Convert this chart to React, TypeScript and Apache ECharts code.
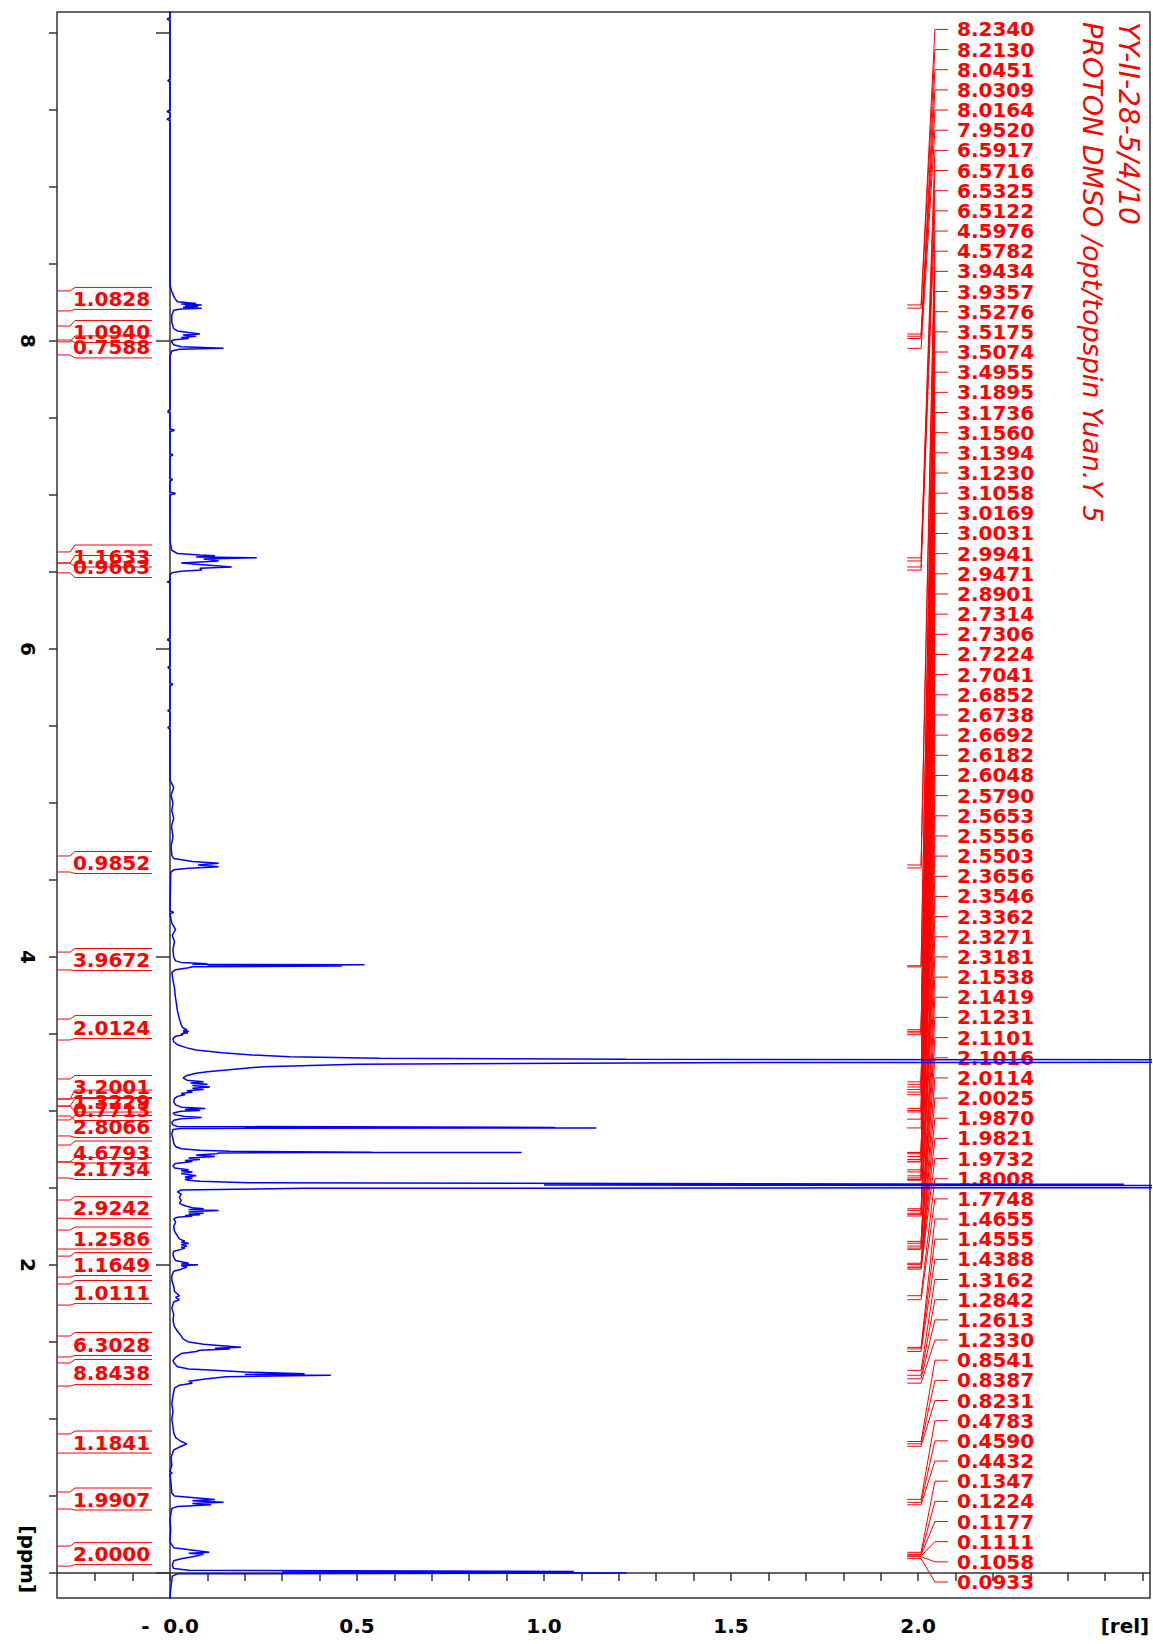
import React, { useEffect, useRef } from 'react';
import * as echarts from 'echarts';

// ---------- axes ----------
const X_MIN = -0.302;
const X_MAX = 2.62;
const Y_MIN = -0.162;
const Y_MAX = 10.136;

const xTickValues = [-0.2, -0.1, 0, 0.1, 0.2, 0.3, 0.4, 0.5, 0.6, 0.7, 0.8, 0.9, 1.0, 1.1, 1.2, 1.3, 1.4, 1.5, 1.6, 1.7, 1.8, 1.9, 2.0, 2.1, 2.2, 2.3, 2.4, 2.5, 2.6];
const xLabelValues = [0, 0.5, 1.0, 1.5, 2.0, 2.553];
const yMajorTicks = [0, 2, 4, 6, 8, 10];
const yMinorTicks = [0, 0.5, 1, 1.5, 2, 2.5, 3, 3.5, 4, 4.5, 5, 5.5, 6, 6.5, 7, 7.5, 8, 8.5, 9, 9.5, 10];
const yLabelValues = [0.09, 2, 4, 6, 8];

// ---------- spectrum: [ppm, relative intensity] ----------
const spectrum: [number, number][] = [
  [10.14, 0.0], [10.10, 0.0], [10.09, -0.008], [10.08, 0.0],
  [9.70, 0.0], [9.69, -0.006], [9.68, 0.0],
  [9.50, 0.0], [9.49, -0.008], [9.48, 0.0], [9.45, 0.0], [9.44, -0.008], [9.43, 0.0],
  [8.36, 0.0], [8.32, 0.005], [8.28, 0.012], [8.255, 0.02],
  [8.248, 0.05], [8.244, 0.07], [8.240, 0.03], [8.234, 0.085], [8.229, 0.04], [8.224, 0.075], [8.219, 0.035], [8.213, 0.085], [8.208, 0.03], [8.200, 0.01],
  [8.17, 0.005], [8.12, 0.005], [8.08, 0.01], [8.065, 0.02],
  [8.0451, 0.08], [8.038, 0.035], [8.0309, 0.07], [8.023, 0.03], [8.0164, 0.05], [8.008, 0.012], [8.000, 0.003],
  [7.975, 0.01], [7.962, 0.03], [7.952, 0.143], [7.946, 0.025], [7.935, 0.005], [7.90, 0.0],
  [7.56, 0.0], [7.54, -0.006], [7.53, 0.0], [7.43, 0.0], [7.42, 0.012], [7.41, 0.0], [7.27, 0.0], [7.26, 0.008], [7.25, 0.0],
  [7.11, 0.0], [7.10, 0.007], [7.09, 0.0], [7.02, 0.0], [7.01, 0.015], [7.00, 0.0],
  [6.70, 0.0], [6.64, 0.005], [6.62, 0.02], [6.610, 0.08], [6.605, 0.12], [6.598, 0.07], [6.5917, 0.232], [6.585, 0.09],
  [6.5716, 0.13], [6.565, 0.08], [6.558, 0.03], [6.548, 0.08], [6.5325, 0.165], [6.525, 0.08], [6.5122, 0.085], [6.505, 0.03], [6.495, 0.005], [6.48, 0.0],
  [6.44, 0.0], [6.437, -0.008], [6.43, 0.0],
  [6.07, 0.0], [6.06, -0.007], [6.05, 0.0], [5.89, 0.0], [5.88, -0.006], [5.87, 0.0], [5.78, 0.0], [5.77, 0.008], [5.76, 0.0],
  [5.61, 0.0], [5.60, -0.006], [5.59, 0.0], [5.50, 0.0], [5.49, -0.006], [5.48, 0.0],
  [5.15, 0.0], [5.10, 0.01], [5.05, 0.003], [5.00, 0.008], [4.95, 0.005], [4.90, 0.01], [4.85, 0.004], [4.78, 0.008], [4.72, 0.003],
  [4.66, 0.005], [4.64, 0.01], [4.62, 0.06], [4.608, 0.13], [4.597, 0.075], [4.586, 0.13], [4.576, 0.05], [4.566, 0.01], [4.55, 0.002],
  [4.30, 0.0], [4.29, 0.01], [4.28, 0.0], [4.22, 0.005], [4.18, 0.015], [4.14, 0.006], [4.10, 0.012], [4.05, 0.008], [4.00, 0.01],
  [3.975, 0.015], [3.965, 0.03], [3.957, 0.10], [3.953, 0.06], [3.950, 0.52], [3.946, 0.10], [3.942, 0.46], [3.937, 0.06], [3.930, 0.05], [3.918, 0.015], [3.90, 0.005],
  [3.85, 0.008], [3.80, 0.012], [3.75, 0.014], [3.70, 0.017], [3.65, 0.02], [3.60, 0.025], [3.56, 0.03], [3.54, 0.035],
  [3.5276, 0.045], [3.522, 0.035], [3.5175, 0.05], [3.512, 0.035], [3.5074, 0.048], [3.501, 0.03], [3.4955, 0.035], [3.485, 0.015], [3.47, 0.008], [3.45, 0.01], [3.43, 0.02], [3.41, 0.045],
  [3.396, 0.07], [3.378, 0.14], [3.364, 0.22], [3.353, 0.32], [3.342, 0.56], [3.336, 1.22], [3.331, 3.5], [3.318, 3.5], [3.314, 1.40],
  [3.304, 0.50], [3.288, 0.25], [3.273, 0.18], [3.255, 0.10], [3.245, 0.07], [3.23, 0.045],
  [3.215, 0.035], [3.200, 0.045],
  [3.1895, 0.09], [3.182, 0.055], [3.1736, 0.10], [3.165, 0.06], [3.156, 0.107], [3.148, 0.06], [3.1394, 0.09], [3.131, 0.045],
  [3.123, 0.06], [3.114, 0.03], [3.1058, 0.04], [3.095, 0.02], [3.08, 0.012], [3.06, 0.01], [3.04, 0.015],
  [3.025, 0.03], [3.0169, 0.094], [3.010, 0.04], [3.0031, 0.08], [2.998, 0.03], [2.9941, 0.02], [2.985, 0.008], [2.975, 0.015],
  [2.965, 0.04], [2.958, 0.085], [2.950, 0.03], [2.940, 0.01], [2.925, 0.005], [2.91, 0.008], [2.90, 0.02],
  [2.8935, 1.03], [2.8915, 0.2], [2.8901, 1.14], [2.887, 0.03], [2.88, 0.008], [2.85, 0.005], [2.82, 0.008], [2.79, 0.01], [2.77, 0.015], [2.755, 0.03],
  [2.745, 0.08], [2.738, 0.16], [2.733, 0.54], [2.732, 0.2], [2.7314, 0.94], [2.7306, 0.4], [2.727, 0.13], [2.7224, 0.125], [2.715, 0.07],
  [2.7041, 0.12], [2.695, 0.05], [2.6852, 0.08], [2.678, 0.04], [2.6738, 0.06], [2.6692, 0.05], [2.66, 0.015], [2.645, 0.008], [2.63, 0.012],
  [2.6182, 0.05], [2.612, 0.03], [2.6048, 0.06], [2.595, 0.03], [2.579, 0.07], [2.572, 0.04], [2.5653, 0.06], [2.5556, 0.04], [2.5503, 0.05], [2.544, 0.08],
  [2.534, 0.21], [2.524, 2.55], [2.520, 1.0], [2.514, 3.5], [2.504, 3.5], [2.498, 0.36], [2.487, 0.03], [2.475, 0.02], [2.46, 0.03], [2.44, 0.025], [2.42, 0.03], [2.40, 0.025],
  [2.385, 0.04], [2.372, 0.06], [2.3656, 0.09], [2.360, 0.05], [2.3546, 0.13], [2.346, 0.05], [2.3362, 0.09], [2.331, 0.05], [2.3271, 0.08], [2.322, 0.04], [2.3181, 0.06], [2.310, 0.02], [2.30, 0.01],
  [2.28, 0.015], [2.25, 0.01], [2.22, 0.012], [2.19, 0.02], [2.17, 0.025],
  [2.1538, 0.04], [2.148, 0.03], [2.1419, 0.05], [2.132, 0.03], [2.1231, 0.045], [2.116, 0.03], [2.1101, 0.04], [2.1016, 0.03], [2.09, 0.01], [2.07, 0.008], [2.05, 0.01], [2.03, 0.015],
  [2.0114, 0.05], [2.006, 0.03], [2.0025, 0.075], [1.995, 0.03], [1.987, 0.045], [1.9821, 0.04], [1.9732, 0.03], [1.96, 0.01], [1.93, 0.005], [1.90, 0.005], [1.86, 0.01], [1.83, 0.012],
  [1.8008, 0.025], [1.79, 0.015], [1.7748, 0.025], [1.76, 0.01], [1.72, 0.005], [1.68, 0.01], [1.64, 0.008], [1.60, 0.012], [1.57, 0.02], [1.54, 0.03], [1.52, 0.035],
  [1.50, 0.05], [1.485, 0.09], [1.478, 0.13], [1.4655, 0.19], [1.460, 0.12], [1.4555, 0.16], [1.447, 0.08], [1.4388, 0.07], [1.425, 0.03], [1.40, 0.015], [1.38, 0.008], [1.36, 0.012],
  [1.34, 0.02], [1.325, 0.05], [1.3162, 0.12], [1.305, 0.2], [1.294, 0.36], [1.290, 0.2], [1.2842, 0.43], [1.275, 0.15], [1.2613, 0.10], [1.245, 0.05], [1.233, 0.06], [1.22, 0.025], [1.20, 0.012],
  [1.15, 0.008], [1.10, 0.005], [1.05, 0.008], [1.00, 0.005], [0.95, 0.008], [0.91, 0.01],
  [0.88, 0.015], [0.8541, 0.03], [0.8387, 0.045], [0.8231, 0.03], [0.80, 0.01],
  [0.75, 0.003], [0.70, 0.005], [0.66, 0.0], [0.65, 0.006], [0.64, 0.0], [0.58, 0.003], [0.52, 0.005], [0.50, 0.012],
  [0.4783, 0.12], [0.470, 0.06], [0.459, 0.143], [0.451, 0.06], [0.4432, 0.11], [0.432, 0.02], [0.42, 0.005],
  [0.35, 0.0], [0.28, 0.002], [0.20, 0.0], [0.165, 0.01],
  [0.1347, 0.105], [0.128, 0.05], [0.1224, 0.09], [0.1177, 0.08], [0.1111, 0.07], [0.1058, 0.06], [0.0933, 0.03], [0.08, 0.01], [0.05, 0.006], [0.03, 0.01],
  [0.018, 0.05], [0.010, 1.08], [0.006, 0.3], [0.001, 1.22], [-0.005, 0.02], [-0.02, 0.006], [-0.05, 0.005], [-0.10, 0.002], [-0.165, 0.0],
];

// ---------- peak picking labels (ppm) ----------
const peakLabels = [
  8.2340, 8.2130, 8.0451, 8.0309, 8.0164, 7.9520, 6.5917, 6.5716, 6.5325, 6.5122,
  4.5976, 4.5782, 3.9434, 3.9357, 3.5276, 3.5175, 3.5074, 3.4955, 3.1895, 3.1736,
  3.1560, 3.1394, 3.1230, 3.1058, 3.0169, 3.0031, 2.9941, 2.9471, 2.8901, 2.7314,
  2.7306, 2.7224, 2.7041, 2.6852, 2.6738, 2.6692, 2.6182, 2.6048, 2.5790, 2.5653,
  2.5556, 2.5503, 2.3656, 2.3546, 2.3362, 2.3271, 2.3181, 2.1538, 2.1419, 2.1231,
  2.1101, 2.1016, 2.0114, 2.0025, 1.9870, 1.9821, 1.9732, 1.8008, 1.7748, 1.4655,
  1.4555, 1.4388, 1.3162, 1.2842, 1.2613, 1.2330, 0.8541, 0.8387, 0.8231, 0.4783,
  0.4590, 0.4432, 0.1347, 0.1224, 0.1177, 0.1111, 0.1058, 0.0933,
];

// ---------- integrals ----------
const integralValues = [1.0828, 1.0940, 0.7588, 1.1633, 0.9663, 0.9852, 3.9672, 2.0124, 3.2001, 1.3229, 0.7713, 2.8066, 4.6793, 2.1734, 2.9242, 1.2586, 1.1649, 1.0111, 6.3028, 8.8438, 1.1841, 1.9907, 2.0000];
const integralFrom = [8.325, 8.097, 7.994, 6.630, 6.558, 4.656, 4.032, 3.597, 3.208, 3.078, 3.032, 2.942, 2.779, 2.669, 2.422, 2.227, 2.058, 1.877, 1.539, 1.364, 0.903, 0.526, 0.175];
const integralTo = [8.195, 8.006, 7.909, 6.558, 6.494, 4.552, 3.916, 3.461, 3.078, 3.032, 2.968, 2.838, 2.669, 2.565, 2.304, 2.104, 1.922, 1.740, 1.403, 1.214, 0.779, 0.416, 0.045];

const titleLine1 = 'YY-II-28-5/4/10';
const titleLine2 = 'PROTON DMSO /opt/topspin Yuan.Y 5';

// layout constants (in intensity units along x)
const PEAK_TICK_START = 1.971;
const PEAK_TICK_END = 2.008;
const PEAK_LEAD_END = 2.045;
const PEAK_LINE_END = 2.08;
const PEAK_TEXT_X = 2.104;
const INT_KINK = -0.267;
const INT_BOX_START = -0.254;
const INT_BOX_END = -0.048;

const RED = '#ff0000';
const LABEL_FONT = 'bold 20px "DejaVu Sans"';

export default function App() {
  const ref = useRef<HTMLDivElement>(null);
  useEffect(() => {
    if (!ref.current) return;
    const chart = echarts.init(ref.current, null, { renderer: 'svg' });
    const nPeaks = peakLabels.length;

    const option: any = {
      animation: false,
      backgroundColor: '#ffffff',
      grid: {
        left: 57, right: 3, top: 12, bottom: 46,
        show: true, borderColor: '#333', borderWidth: 1.5,
        outerBoundsMode: 'none',
      },
      xAxis: {
        type: 'value', min: X_MIN, max: X_MAX,
        axisLine: { show: true, lineStyle: { color: '#333', width: 1.5 } },
        axisTick: { show: true, inside: false, length: 8, customValues: xTickValues, lineStyle: { color: '#333', width: 1.5 } },
        axisLabel: {
          customValues: xLabelValues, margin: 18, color: '#000', fontWeight: 'bold', fontSize: 20,
          fontFamily: 'DejaVu Sans', hideOverlap: false,
          formatter: (v: number) => (v === 0 ? '-  0.0' : v > 2.5 ? '[rel]' : v.toFixed(1)),
        },
        splitLine: { show: false },
      },
      yAxis: [
        {
          type: 'value', min: Y_MIN, max: Y_MAX, position: 'left',
          axisLine: { show: true, lineStyle: { color: '#333', width: 1.5 } },
          axisTick: { show: true, inside: false, length: 14, customValues: yMajorTicks, lineStyle: { color: '#333', width: 1.5 } },
          axisLabel: {
            customValues: yLabelValues, rotate: -90, margin: 19, color: '#000', fontWeight: 'bold', fontSize: 20,
            fontFamily: 'DejaVu Sans', hideOverlap: false,
            formatter: (v: number) => (v < 1 ? '[ppm]' : String(v)),
          },
          splitLine: { show: false },
        },
        {
          type: 'value', min: Y_MIN, max: Y_MAX, position: 'left', offset: 0,
          axisLine: { show: false },
          axisTick: { show: true, inside: false, length: 8, customValues: yMinorTicks, lineStyle: { color: '#333', width: 1.5 } },
          axisLabel: { show: false },
          splitLine: { show: false },
        },
      ],
      graphic: [
        {
          type: 'text', x: 1128, y: 22, rotation: -Math.PI / 2,
          style: { text: titleLine1, fill: RED, font: 'italic 28px "DejaVu Sans"', textAlign: 'left', textVerticalAlign: 'middle', align: 'left', verticalAlign: 'middle' },
        },
        {
          type: 'text', x: 1092, y: 22, rotation: -Math.PI / 2,
          style: { text: titleLine2, fill: RED, font: 'italic 27px "DejaVu Sans"', textAlign: 'left', textVerticalAlign: 'middle', align: 'left', verticalAlign: 'middle' },
        },
      ],
      series: [
        {
          type: 'custom', name: 'peaks', coordinateSystem: 'cartesian2d', xAxisIndex: 0, yAxisIndex: 0,
          encode: { x: 0, y: 1 }, silent: true, z: 3, clip: false,
          data: peakLabels.map((p, i) => [PEAK_TICK_END, p, i]),
          renderItem: (params: any, api: any) => {
            const ppm = api.value(1);
            const idx = api.value(2);
            const cs = params.coordSys;
            const p0 = api.coord([PEAK_TICK_START, ppm]);
            const yPeak = p0[1];
            const x0 = p0[0];
            const x1 = api.coord([PEAK_TICK_END, ppm])[0];
            const x2 = api.coord([PEAK_LEAD_END, ppm])[0];
            const x3 = api.coord([PEAK_LINE_END, ppm])[0];
            const xt = api.coord([PEAK_TEXT_X, ppm])[0];
            const top = 17.4;
            const step = (cs.height - top - 16) / (nPeaks - 1);
            const yLab = cs.y + top + idx * step;
            return {
              type: 'group',
              children: [
                { type: 'polyline', shape: { points: [[x0, yPeak], [x1, yPeak], [x2, yLab], [x3, yLab]] }, style: { stroke: RED, fill: 'none', lineWidth: 1 } },
                { type: 'text', x: xt, y: yLab, style: { text: ppm.toFixed(4), fill: RED, font: LABEL_FONT, lineHeight: 19, textAlign: 'left', textVerticalAlign: 'middle', align: 'left', verticalAlign: 'middle' } },
              ],
            };
          },
        },
        {
          type: 'custom', name: 'integrals', coordinateSystem: 'cartesian2d', xAxisIndex: 0, yAxisIndex: 0,
          encode: { x: 0, y: 1 }, silent: true, z: 3, clip: false,
          data: integralValues.map((v, i) => [INT_BOX_START, integralFrom[i], integralTo[i], v]),
          renderItem: (params: any, api: any) => {
            const from = api.value(1);
            const to = api.value(2);
            const val = api.value(3);
            const cs = params.coordSys;
            const y1 = api.coord([0, from])[1];
            const y2 = api.coord([0, to])[1];
            const xF = cs.x;
            const xK = api.coord([INT_KINK, 0])[0];
            const xB = api.coord([INT_BOX_START, 0])[0];
            const xE = api.coord([INT_BOX_END, 0])[0];
            let top = y1 - 3.5;
            let bot = y2 - 1.5;
            if (bot - top < 22) {
              const c = (y1 + y2) / 2;
              top = c - 12.5;
              bot = c + 9.5;
            }
            const yt = (top + bot) / 2 + 0.5;
            return {
              type: 'group',
              children: [
                { type: 'polyline', shape: { points: [[xF, y1], [xK, y1], [xB, top], [xE, top]] }, style: { stroke: RED, fill: 'none', lineWidth: 1 } },
                { type: 'polyline', shape: { points: [[xF, y2], [xK, y2], [xB, bot], [xE, bot]] }, style: { stroke: RED, fill: 'none', lineWidth: 1 } },
                { type: 'text', x: xB - 2, y: yt, style: { text: Number(val).toFixed(4), fill: RED, font: LABEL_FONT, lineHeight: 17, textAlign: 'left', textVerticalAlign: 'middle', align: 'left', verticalAlign: 'middle' } },
              ],
            };
          },
        },
        {
          type: 'line', name: 'spectrum', xAxisIndex: 0, yAxisIndex: 0,
          data: spectrum.map(([ppm, rel]) => [rel, ppm]),
          symbol: 'none', showSymbol: false, clip: true, z: 5, silent: true,
          lineStyle: { color: '#0000ff', width: 1.5 },
        },
      ],
    };
    chart.setOption(option);
    return () => chart.dispose();
  }, []);

  return (
    <div
      ref={ref}
      style={{ position: 'fixed', left: 0, top: 0, width: 1153, height: 1644, background: '#fff' }}
    />
  );
}
